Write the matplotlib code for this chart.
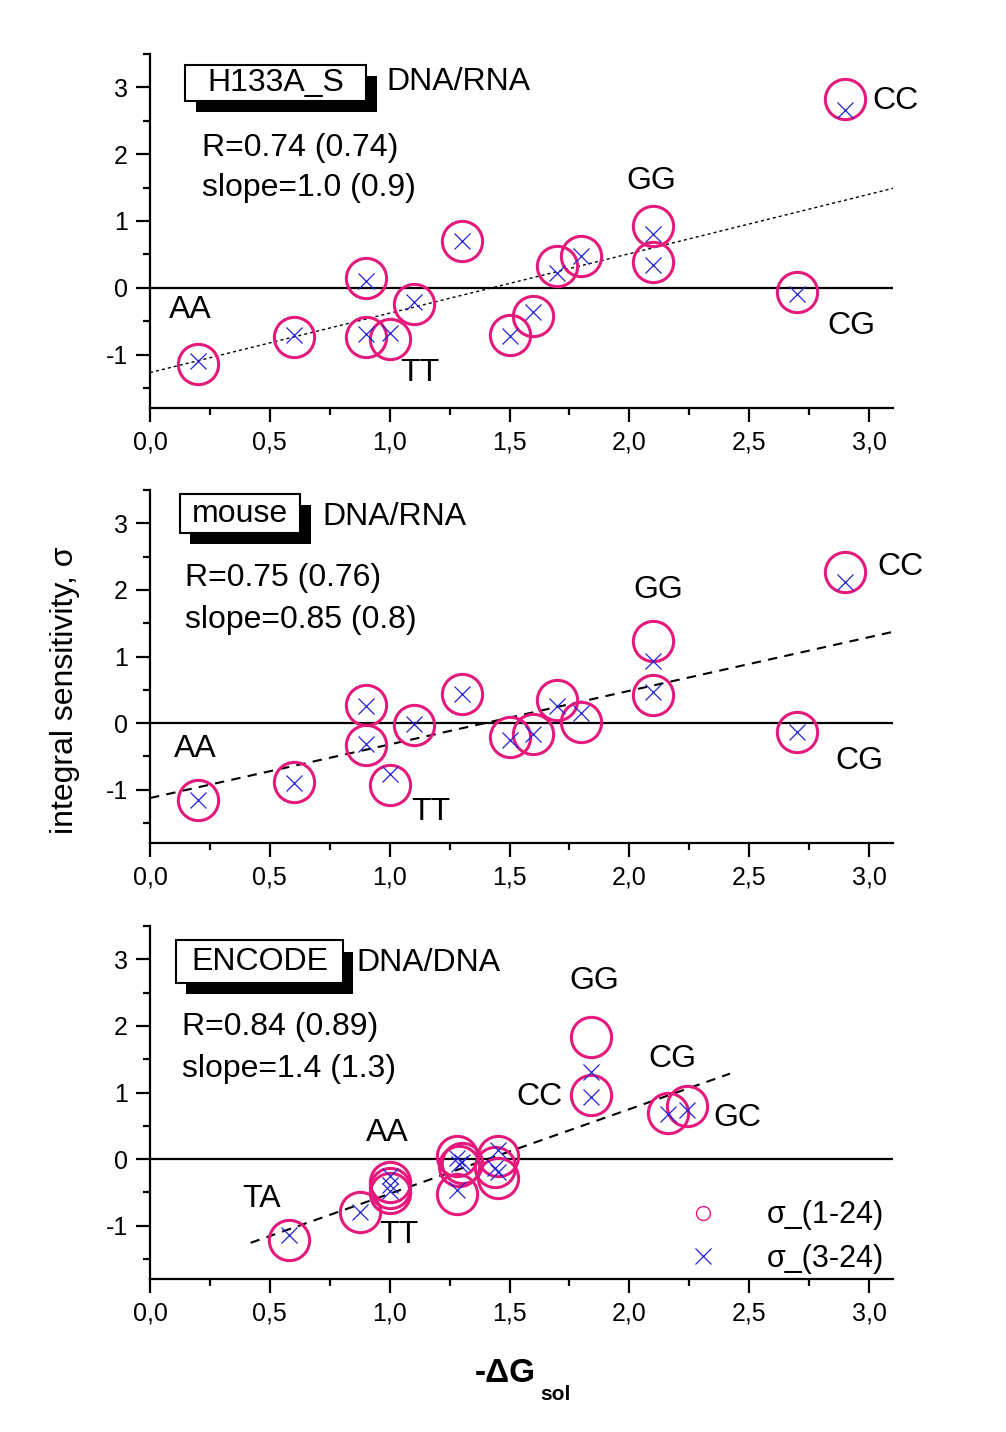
import matplotlib
matplotlib.use("Agg")
import matplotlib.pyplot as plt
from matplotlib.patches import Rectangle
from matplotlib.lines import Line2D
from matplotlib.ticker import MultipleLocator, FuncFormatter
import numpy as np

plt.rcParams['font.family'] = ['Liberation Sans', 'DejaVu Sans']
plt.rcParams['axes.unicode_minus'] = False

# ---------------- data ----------------
# Panel 1: H133A_S  DNA/RNA
h133_x = [0.2, 0.6, 0.9, 0.9, 1.0, 1.1, 1.3, 1.5, 1.6, 1.7, 1.8, 2.1, 2.1, 2.7, 2.9]
h133_s1 = [-1.14, -0.74, 0.15, -0.74, -0.76, -0.24, 0.70, -0.71, -0.42, 0.32, 0.47, 0.93, 0.38, -0.07, 2.82]
h133_s3 = [-1.09, -0.71, 0.10, -0.69, -0.68, -0.21, 0.70, -0.72, -0.37, 0.22, 0.48, 0.80, 0.34, -0.09, 2.66]
h133_fit = (-1.27, 0.89)          # intercept, slope
h133_fit_x = [0.0, 3.1]

# Panel 2: mouse  DNA/RNA
mouse_x = [0.2, 0.6, 0.9, 0.9, 1.0, 1.1, 1.3, 1.5, 1.6, 1.7, 1.8, 2.1, 2.1, 2.7, 2.9]
mouse_s1 = [-1.15, -0.89, 0.27, -0.33, -0.93, -0.03, 0.44, -0.21, -0.16, 0.35, 0.02, 1.24, 0.42, -0.14, 2.27]
mouse_s3 = [-1.16, -0.90, 0.25, -0.31, -0.76, -0.01, 0.43, -0.26, -0.17, 0.25, 0.15, 0.94, 0.46, -0.14, 2.12]
mouse_fit = (-1.125, 0.805)
mouse_fit_x = [0.0, 3.1]

# Panel 3: ENCODE  DNA/DNA
enc_x = [0.58, 0.875, 1.0, 1.0, 1.0, 1.28, 1.30, 1.29, 1.28, 1.45, 1.44, 1.45, 1.84, 1.84, 2.16, 2.24]
enc_s1 = [-1.21, -0.79, -0.35, -0.43, -0.51, 0.05, -0.06, -0.10, -0.53, 0.04, -0.12, -0.28, 1.84, 0.96, 0.69, 0.79]
enc_s3 = [-1.135, -0.80, -0.26, -0.385, -0.485, 0.02, -0.04, -0.08, -0.47, 0.14, -0.13, -0.19, 1.31, 0.94, 0.67, 0.74]
enc_fit = (-1.79, 1.27)
enc_fit_x = [0.42, 2.42]

# point labels (text, x, y)
h133_labels = [("AA", 0.17, -0.33), ("TT", 1.125, -1.27), ("GG", 2.09, 1.60),
               ("CG", 2.925, -0.57), ("CC", 3.11, 2.79)]
mouse_labels = [("AA", 0.19, -0.39), ("TT", 1.17, -1.33), ("GG", 2.12, 2.00),
                ("CG", 2.96, -0.57), ("CC", 3.13, 2.34)]
enc_labels = [("TA", 0.467, -0.60), ("AA", 0.99, 0.39), ("TT", 1.04, -1.14),
              ("CC", 1.625, 0.93), ("GG", 1.854, 2.67), ("CG", 2.18, 1.50),
              ("GC", 2.45, 0.62)]

titles = ["H133A_S", "mouse", "ENCODE"]
subtitles = ["DNA/RNA", "DNA/RNA", "DNA/DNA"]
r_texts = ["R=0.74 (0.74)", "R=0.75 (0.76)", "R=0.84 (0.89)"]
slope_texts = ["slope=1.0 (0.9)", "slope=0.85 (0.8)", "slope=1.4 (1.3)"]

legend_labels = ["σ_(1-24)", "σ_(3-24)"]
xlabel_main = "-ΔG"
xlabel_sub = "sol"
ylabel = "integral sensitivity, σ"

# ---------------- layout ----------------
W, H = 1006, 1432
fig = plt.figure(figsize=(W / 100, H / 100), dpi=100)
fig.patch.set_facecolor("white")

LEFT_PX, RIGHT_PX = 150, 893
panels_px = [(54, 408), (490, 843), (926, 1279)]  # top, bottom in pixels

CIRC = "#E5197C"
CROSS = "#2323D6"

# box geometry in pixels: (white box), (shadow), subtitle (x, y), stats y, stats x
boxes_px = [
    ((185, 65, 366, 101), (196, 76, 377, 112), (386, 82), (148, 188), 202),
    ((180, 494, 300, 533), (190, 505, 311, 544), (322, 517), (578, 620), 185),
    ((176, 940, 343, 983), (186, 952, 353, 994), (356, 963), (1027, 1069), 182),
]

datasets = [
    (h133_x, h133_s1, h133_s3, h133_fit, h133_fit_x, h133_labels, (0, (2.2, 2.2)), 1.0),
    (mouse_x, mouse_s1, mouse_s3, mouse_fit, mouse_fit_x, mouse_labels, (0, (4.5, 3.5)), 1.5),
    (enc_x, enc_s1, enc_s3, enc_fit, enc_fit_x, enc_labels, (0, (4.5, 3.5)), 1.5),
]

comma_fmt = FuncFormatter(lambda v, p: f"{v:.1f}".replace(".", ","))

for i, ((top, bot), ds) in enumerate(zip(panels_px, datasets)):
    x, s1, s3, fit, fit_x, labels, ls, flw = ds
    ax = fig.add_axes([LEFT_PX / W, 1 - bot / H, (RIGHT_PX - LEFT_PX) / W, (bot - top) / H])
    ax.set_xlim(0, 3.1)
    ax.set_ylim(-1.8, 3.5)
    for sp in ["top", "right"]:
        ax.spines[sp].set_visible(False)
    for sp in ["left", "bottom"]:
        ax.spines[sp].set_linewidth(1.6)
    ax.xaxis.set_major_locator(MultipleLocator(0.5))
    ax.xaxis.set_minor_locator(MultipleLocator(0.25))
    ax.yaxis.set_major_locator(MultipleLocator(1))
    ax.yaxis.set_minor_locator(MultipleLocator(0.5))
    ax.xaxis.set_major_formatter(comma_fmt)
    ax.tick_params(which="major", direction="out", length=10, width=1.6, labelsize=18, pad=6)
    ax.tick_params(which="minor", direction="out", length=5, width=1.6)

    ax.axhline(0, color="black", lw=1.6, zorder=1)
    fx = np.array(fit_x)
    ax.plot(fx, fit[0] + fit[1] * fx, color="black", lw=flw, linestyle=ls, zorder=2)

    ax.plot(x, s1, linestyle="none", marker="o", markersize=29, markerfacecolor="none",
            markeredgecolor=CIRC, markeredgewidth=2.2, zorder=3, clip_on=False)
    ax.plot(x, s3, linestyle="none", marker="x", markersize=11, color=CROSS,
            markeredgewidth=0.9, zorder=4, clip_on=False)

    for t, lx, ly in labels:
        ax.text(lx, ly, t, fontsize=23, ha="center", va="center", zorder=5)

    hpx = bot - top
    wpx = RIGHT_PX - LEFT_PX
    fxp = lambda px: (px - LEFT_PX) / wpx
    fyp = lambda py: (bot - py) / hpx

    wb, sb, sub, stats_y, stats_x = boxes_px[i]
    ax.add_patch(Rectangle((fxp(sb[0]), fyp(sb[3])), fxp(sb[2]) - fxp(sb[0]), fyp(sb[1]) - fyp(sb[3]),
                           transform=ax.transAxes, facecolor="black", edgecolor="none",
                           zorder=6, clip_on=False))
    ax.add_patch(Rectangle((fxp(wb[0]), fyp(wb[3])), fxp(wb[2]) - fxp(wb[0]), fyp(wb[1]) - fyp(wb[3]),
                           transform=ax.transAxes, facecolor="white", edgecolor="black", lw=1.5,
                           zorder=7, clip_on=False))
    ax.text((fxp(wb[0]) + fxp(wb[2])) / 2, (fyp(wb[1]) + fyp(wb[3])) / 2, titles[i],
            transform=ax.transAxes, fontsize=23, ha="center", va="center", zorder=8)
    ax.text(fxp(sub[0]), fyp(sub[1]), subtitles[i], transform=ax.transAxes,
            fontsize=23, ha="left", va="center", zorder=8)
    ax.text(fxp(stats_x), fyp(stats_y[0]), r_texts[i], transform=ax.transAxes,
            fontsize=23, ha="left", va="center", zorder=8)
    ax.text(fxp(stats_x), fyp(stats_y[1]), slope_texts[i], transform=ax.transAxes,
            fontsize=23, ha="left", va="center", zorder=8)

    if i == 2:
        handles = [Line2D([], [], linestyle="none", marker="o", markersize=10,
                          markerfacecolor="none", markeredgecolor=CIRC, markeredgewidth=1.0),
                   Line2D([], [], linestyle="none", marker="x", markersize=11,
                          color=CROSS, markeredgewidth=0.9)]
        ax.legend(handles, legend_labels, loc="lower right", frameon=False, fontsize=22,
                  bbox_to_anchor=(fxp(884), fyp(1274)), borderaxespad=0, borderpad=0,
                  handlelength=1.0, handletextpad=1.6, labelspacing=0.45)

fig.text(65 / W, 1 - 690 / H, ylabel, rotation=90, fontsize=23, ha="center", va="center")
fig.text(536 / W, 1 - 1374 / H, xlabel_main, fontsize=24, fontweight="bold", ha="right", va="center")
fig.text(540 / W, 1 - 1395 / H, xlabel_sub, fontsize=15, fontweight="bold", ha="left", va="center")

fig.savefig("out.png", dpi=100, facecolor="white")
